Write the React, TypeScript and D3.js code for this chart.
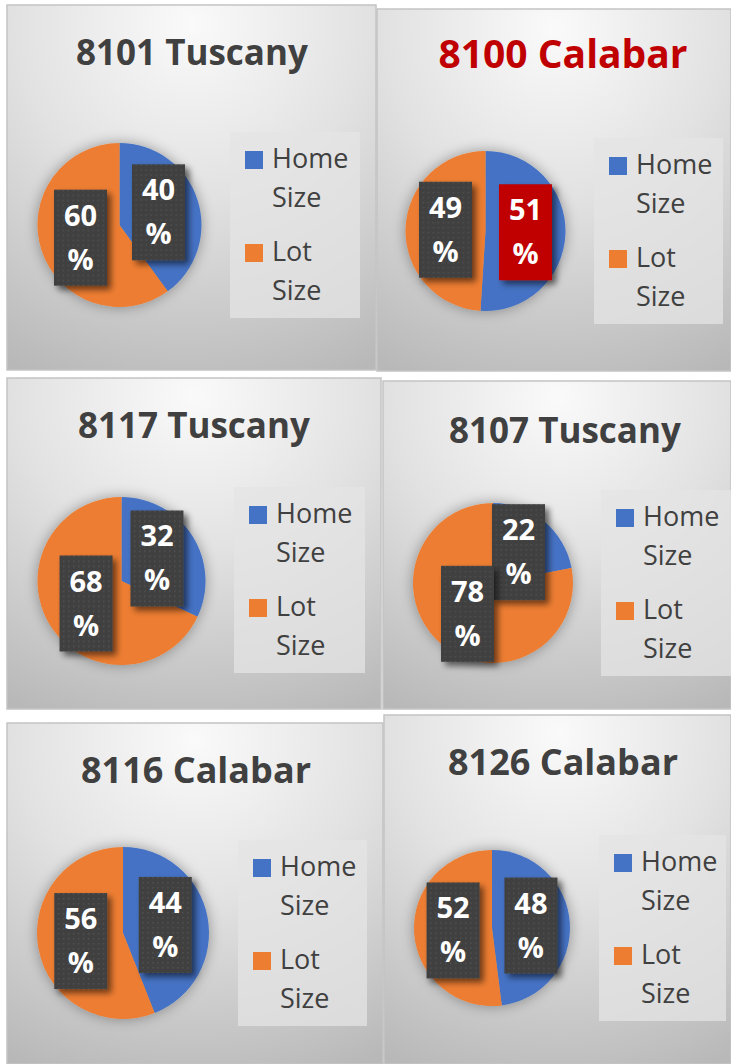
import React from "react";
import * as d3 from "d3";

// ---- data ----
const titles = ["8101 Tuscany", "8100 Calabar", "8117 Tuscany", "8107 Tuscany", "8116 Calabar", "8126 Calabar"];
const homeSize = [40, 51, 32, 22, 44, 48];
const lotSize = [60, 49, 68, 78, 56, 52];
const seriesNames = ["Home Size", "Lot Size"];
const highlighted = [false, true, false, false, false, false];

// ---- layout ----
const panels = [
  { x: 7, y: 5, w: 369, h: 365, tx: 192, ty: 65, fs: 35, cx: 119.5, cy: 225, r: 82, lx: 230, ly: 132, lw: 130 },
  { x: 377, y: 9, w: 354, h: 362, tx: 563, ty: 68, fs: 39, cx: 485.5, cy: 231, r: 80, lx: 594, ly: 138, lw: 129 },
  { x: 7, y: 378, w: 374, h: 331, tx: 194, ty: 438, fs: 35, cx: 121.5, cy: 581, r: 84, lx: 234, ly: 487, lw: 131 },
  { x: 383, y: 381, w: 348, h: 328, tx: 565, ty: 443, fs: 35, cx: 493, cy: 583, r: 80, lx: 601, ly: 490, lw: 130 },
  { x: 7, y: 723, w: 376, h: 341, tx: 196, ty: 783, fs: 36, cx: 123, cy: 933, r: 86, lx: 238, ly: 840, lw: 129 },
  { x: 384, y: 715, w: 347, h: 349, tx: 563, ty: 775, fs: 36, cx: 492, cy: 928, r: 78, lx: 599, ly: 835, lw: 127 },
];

const colors = d3.scaleOrdinal<string, string>().domain(seriesNames).range(["#4472C4", "#ED7D31"]);
const FONT = "'Open Sans', 'DejaVu Sans', sans-serif";

export default function App() {
  return (
    <svg width={731} height={1064} style={{ position: "absolute", left: 0, top: 0, background: "#fff" }}>
      <defs>
        <radialGradient id="bg" cx="0.5" cy="0.05" r="1.05" fx="0.5" fy="0.05">
          <stop offset="0" stopColor="#fafafa" />
          <stop offset="0.45" stopColor="#e2e2e2" />
          <stop offset="1" stopColor="#b8b8b8" />
        </radialGradient>
        <pattern id="dots" width="5" height="5" patternUnits="userSpaceOnUse">
          <rect width="5" height="5" fill="#3f3f3f" />
          <rect x="2" y="2" width="1.5" height="1.5" fill="#525252" />
        </pattern>
        <filter id="boxShadow" x="-30%" y="-30%" width="170%" height="170%">
          <feGaussianBlur in="SourceAlpha" stdDeviation="3" />
          <feOffset dx="4" dy="4" result="o" />
          <feComponentTransfer><feFuncA type="linear" slope="0.55" /></feComponentTransfer>
          <feMerge><feMergeNode /><feMergeNode in="SourceGraphic" /></feMerge>
        </filter>
        <filter id="pieShadow" x="-30%" y="-30%" width="160%" height="160%">
          <feGaussianBlur in="SourceAlpha" stdDeviation="7" />
          <feComponentTransfer><feFuncA type="linear" slope="0.35" /></feComponentTransfer>
          <feMerge><feMergeNode /><feMergeNode in="SourceGraphic" /></feMerge>
        </filter>
      </defs>
      {panels.map((p, i) => {
        const values = [homeSize[i], lotSize[i]];
        const arcs = d3.pie<number>().sort(null).value((d) => d)(values);
        const arcGen = d3.arc<d3.PieArcDatum<number>>().innerRadius(0).outerRadius(p.r);
        return (
          <g key={i}>
            <rect x={p.x} y={p.y} width={p.w} height={p.h} fill="url(#bg)" stroke="#c4c4c4" strokeWidth={1.5} />
            <text x={p.tx} y={p.ty} textAnchor="middle" fontFamily={FONT} fontWeight="bold" fontSize={p.fs}
              fill={highlighted[i] ? "#C00000" : "#404040"}>{titles[i]}</text>
            <g transform={`translate(${p.cx},${p.cy})`}>
              <g filter="url(#pieShadow)">
                {arcs.map((a, j) => (
                  <path key={j} d={arcGen(a) || ""} fill={colors(seriesNames[j])} />
                ))}
              </g>
              {arcs.map((a, j) => {
                const [mx, my] = arcGen.centroid(a);
                const red = highlighted[i] && j === 0;
                return (
                  <g key={"l" + j} transform={`translate(${mx},${my})`}>
                    <rect x={-26.5} y={-48} width={53} height={96} fill={red ? "#C00000" : "url(#dots)"} filter="url(#boxShadow)" />
                    <text y={-12} textAnchor="middle" fontFamily={FONT} fontWeight="bold" fontSize={29} fill="#fff">{values[j]}</text>
                    <text y={32} textAnchor="middle" fontFamily={FONT} fontWeight="bold" fontSize={29} fill="#fff">%</text>
                  </g>
                );
              })}
            </g>
            <g transform={`translate(${p.lx},${p.ly})`}>
              <rect width={p.lw} height={186} fill="#e4e4e4" fillOpacity={0.75} />
              {seriesNames.map((s, j) => {
                const [w1, w2] = s.split(" ");
                const oy = j * 93;
                return (
                  <g key={s}>
                    <rect x={15} y={19 + oy} width={18} height={18} fill={colors(s)} />
                    <text x={42} y={36 + oy} fontFamily={FONT} fontSize={27} fill="#404040">{w1}</text>
                    <text x={42} y={75 + oy} fontFamily={FONT} fontSize={27} fill="#404040">{w2}</text>
                  </g>
                );
              })}
            </g>
          </g>
        );
      })}
    </svg>
  );
}
